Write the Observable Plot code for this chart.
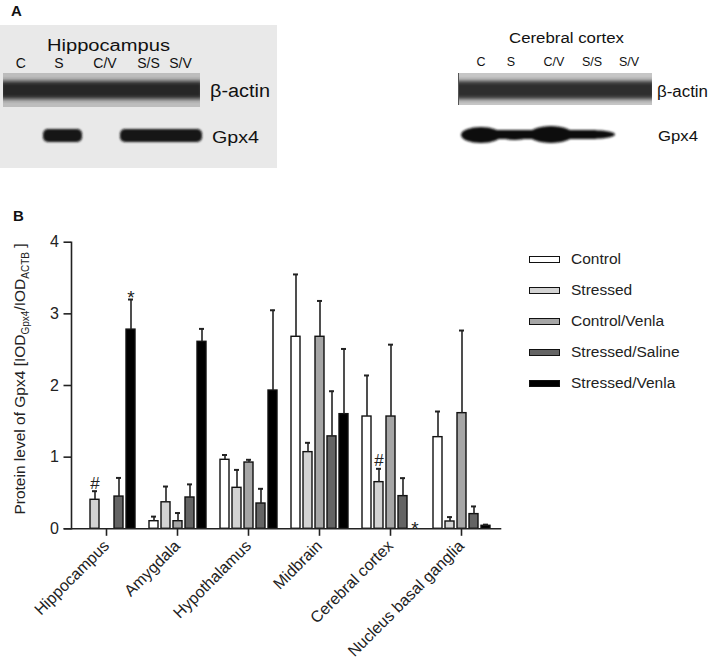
<!DOCTYPE html>
<html>
<head>
<meta charset="utf-8">
<script src="https://cdn.jsdelivr.net/npm/d3@7"></script>
<script src="https://cdn.jsdelivr.net/npm/@observablehq/plot@0.6"></script>
<style>
  html, body { margin: 0; padding: 0; background: #fff; }
  #fig { position: relative; width: 709px; height: 664px; overflow: hidden; font-family: "Liberation Sans", Arial, sans-serif; }
  #panelA { position: absolute; left: 0; top: 0; }
  #chart { position: absolute; left: 0; top: 200px; }
  #legend { position: absolute; left: 529px; top: 249px; }
  .lg-row { position: absolute; left: 0; height: 20px; white-space: nowrap; display: flex; align-items: center; }
  .lg-sw { width: 29px; height: 5px; border: 1.4px solid #111; margin-right: 11px; }
  .lg-tx { font-size: 15.5px; color: #222; }
</style>
</head>
<body>
<div id="fig">
  <div id="panelA"></div>
  <div id="chart"></div>
  <div id="legend"></div>
</div>
<script>
// ---------- data ----------
const groups = ["Hippocampus", "Amygdala", "Hypothalamus", "Midbrain", "Cerebral cortex", "Nucleus basal ganglia"];
const series = ["Control", "Stressed", "Control/Venla", "Stressed/Saline", "Stressed/Venla"];
const seriesColors = ["#ffffff", "#d3d3d3", "#a6a6a6", "#646464", "#000000"];

const controlMean       = [null, 0.106, 0.963, 2.68, 1.567, 1.279];
const controlErr        = [null, 0.064, 0.067, 0.87, 0.573, 0.358];
const stressedMean      = [0.405, 0.37, 0.572, 1.07, 0.651, 0.102];
const stressedErr       = [0.12, 0.22, 0.25, 0.13, 0.186, 0.061];
const controlVenlaMean  = [null, 0.106, 0.925, 2.68, 1.567, 1.614];
const controlVenlaErr   = [null, 0.114, 0.038, 0.50, 1.003, 1.153];
const stressedSalineMean= [0.45, 0.437, 0.353, 1.29, 0.456, 0.205];
const stressedSalineErr = [0.26, 0.183, 0.205, 0.63, 0.251, 0.107];
const stressedVenlaMean = [2.78, 2.61, 1.93, 1.60, null, 0.042];
const stressedVenlaErr  = [0.42, 0.18, 1.12, 0.91, null, 0.016];

const yTicks = [0, 1, 2, 3, 4];

const annotations = [
  {group: "Hippocampus", series: "Stressed", label: "#"},
  {group: "Hippocampus", series: "Stressed/Venla", label: "*"},
  {group: "Cerebral cortex", series: "Stressed", label: "#"},
  {group: "Cerebral cortex", series: "Stressed/Venla", label: "*"}
];

// panel A text
const laneLabels = ["C", "S", "C/V", "S/S", "S/V"];
const blotLeftTitle = "Hippocampus";
const blotRightTitle = "Cerebral cortex";
const bandNames = ["β-actin", "Gpx4"];

// ---------- build table ----------
const means = [controlMean, stressedMean, controlVenlaMean, stressedSalineMean, stressedVenlaMean];
const errs = [controlErr, stressedErr, controlVenlaErr, stressedSalineErr, stressedVenlaErr];
const rows = [];
series.forEach((s, i) => groups.forEach((g, j) => {
  rows.push({group: g, series: s, mean: means[i][j], err: errs[i][j]});
}));
const present = rows.filter(d => d.mean != null);
const findRow = (g, s) => rows.find(d => d.group === g && d.series === s);
const ann = annotations.map(a => {
  const r = findRow(a.group, a.series);
  const hasBar = r && r.mean != null;
  return {...a, y: hasBar ? r.mean + r.err : 0, hasBar};
});

// ---------- chart B ----------
const chart = Plot.plot({
  width: 709,
  height: 464,
  marginTop: 41.7,
  marginBottom: 135.7,
  marginLeft: 70,
  marginRight: 213,
  style: {fontFamily: "'Liberation Sans', Arial, sans-serif", fontSize: "16px", color: "#222", background: "transparent"},
  fx: {domain: groups, padding: 0.02, label: null},
  x: {domain: series, paddingInner: 0.27, paddingOuter: 0.43, axis: null},
  y: {domain: [0, 4], label: null},
  color: {domain: series, range: seriesColors},
  marks: [
    Plot.barY(present, {fx: "group", x: "series", y: "mean", fill: "series", stroke: "#111", strokeWidth: 1.4}),
    Plot.ruleX(present, {fx: "group", x: "series", y1: "mean", y2: d => d.mean + d.err, stroke: "#222", strokeWidth: 1.6}),
    Plot.tickY(present, {fx: "group", x: "series", y: d => d.mean + d.err, stroke: "#222", strokeWidth: 2, insetLeft: 2, insetRight: 2}),
    Plot.text(ann.filter(d => d.label === "#"), {fx: "group", x: "series", y: "y", text: "label", lineAnchor: "bottom", dy: -2.5, fontSize: 17, fill: "#222"}),
    Plot.text(ann.filter(d => d.label === "*" && d.hasBar), {fx: "group", x: "series", y: "y", text: "label", lineAnchor: "bottom", dy: 4, fontSize: 19, fill: "#222"}),
    Plot.text(ann.filter(d => d.label === "*" && !d.hasBar), {fx: "group", x: "series", y: "y", text: "label", lineAnchor: "bottom", dy: 6, fontSize: 19, fill: "#222"}),
    Plot.frame({anchor: "bottom", facet: "super", insetLeft: -7, insetRight: -4, stroke: "#222", strokeWidth: 1.6}),
    Plot.frame({anchor: "left", facet: "super", stroke: "#222", strokeWidth: 1.6}),
    Plot.axisY({ticks: yTicks, tickSize: 7.5, tickPadding: 5, tickFormat: d => String(d), label: null, stroke: "#222", strokeWidth: 1.6, fontSize: 16}),
    Plot.axisFx({anchor: "bottom", tickSize: 7.5, tickRotate: -45, tickPadding: 7, label: null, stroke: "#222", strokeWidth: 1.6, fontSize: 16})
  ]
});
document.getElementById("chart").appendChild(chart);

// y-axis title with subscripts
const csvg = d3.select(chart.tagName.toLowerCase() === "svg" ? chart : chart.querySelector("svg"));
const yl = csvg.append("text")
  .attr("transform", "translate(25,179) rotate(-90)")
  .attr("text-anchor", "middle")
  .attr("font-size", 15.5)
  .attr("fill", "#222")
  .attr("font-family", "'Liberation Sans', Arial, sans-serif");
yl.append("tspan").text("Protein level of Gpx4 [IOD");
yl.append("tspan").attr("dy", 4).attr("font-size", 10).text("Gpx4");
yl.append("tspan").attr("dy", -4).text("/IOD");
yl.append("tspan").attr("dy", 4).attr("font-size", 10).text("ACTB");
yl.append("tspan").attr("dy", -4).text(" ]");

// legend
const lg = document.getElementById("legend");
series.forEach((s, i) => {
  const row = document.createElement("div");
  row.className = "lg-row";
  row.style.top = (i * 31.1) + "px";
  const sw = document.createElement("div");
  sw.className = "lg-sw";
  sw.style.background = seriesColors[i];
  const tx = document.createElement("span");
  tx.className = "lg-tx";
  tx.textContent = s;
  row.appendChild(sw); row.appendChild(tx);
  lg.appendChild(row);
});

// ---------- panel A (blot images) ----------
const A = d3.select("#panelA").append("svg").attr("width", 709).attr("height", 232)
  .attr("font-family", "'Liberation Sans', Arial, sans-serif");
const defs = A.append("defs");
defs.append("filter").attr("id", "blur2").attr("x", "-10%").attr("y", "-50%").attr("width", "120%").attr("height", "200%")
  .append("feGaussianBlur").attr("stdDeviation", 2.2);
defs.append("filter").attr("id", "blur1").attr("x", "-10%").attr("y", "-50%").attr("width", "120%").attr("height", "200%")
  .append("feGaussianBlur").attr("stdDeviation", 1);
defs.append("clipPath").attr("id", "clipL").append("rect").attr("x", 3).attr("y", 73).attr("width", 197).attr("height", 34);
defs.append("clipPath").attr("id", "clipR").append("rect").attr("x", 458).attr("y", 73).attr("width", 194).attr("height", 32);

A.append("text").attr("x", 11).attr("y", 16).attr("font-size", 15).attr("font-weight", "bold").attr("fill", "#111").text("A");

// left blot
A.append("rect").attr("x", 0).attr("y", 25).attr("width", 277).attr("height", 143).attr("fill", "#e9e9e9");
A.append("rect").attr("x", 3).attr("y", 73).attr("width", 197).attr("height", 34).attr("fill", "#bdbdbd");
A.append("g").attr("clip-path", "url(#clipL)")
  .append("rect").attr("x", 0).attr("y", 81).attr("width", 203).attr("height", 18).attr("fill", "#262626").attr("filter", "url(#blur2)");
A.append("rect").attr("x", 43).attr("y", 129).attr("width", 39).attr("height", 13).attr("rx", 5).attr("fill", "#121212").attr("filter", "url(#blur1)");
A.append("rect").attr("x", 120).attr("y", 129).attr("width", 82).attr("height", 13).attr("rx", 5).attr("fill", "#121212").attr("filter", "url(#blur1)");
A.append("text").attr("x", 47).attr("y", 51).attr("font-size", 16).attr("fill", "#111")
  .attr("textLength", 123).attr("lengthAdjust", "spacingAndGlyphs").text(blotLeftTitle);
const laneXL = [20.7, 59, 105, 148.5, 180.5];
laneLabels.forEach((l, i) => A.append("text").attr("x", laneXL[i]).attr("y", 68).attr("text-anchor", "middle")
  .attr("font-size", 14).attr("fill", "#111").text(l));
A.append("text").attr("x", 210).attr("y", 97).attr("font-size", 18).attr("fill", "#111")
  .attr("textLength", 60).attr("lengthAdjust", "spacingAndGlyphs").text(bandNames[0]);
A.append("text").attr("x", 212).attr("y", 143).attr("font-size", 17).attr("fill", "#111")
  .attr("textLength", 47).attr("lengthAdjust", "spacingAndGlyphs").text(bandNames[1]);

// right blot
A.append("text").attr("x", 509).attr("y", 43).attr("font-size", 14).attr("fill", "#111")
  .attr("textLength", 115).attr("lengthAdjust", "spacingAndGlyphs").text(blotRightTitle);
const laneXR = [481, 511, 554, 592, 629];
laneLabels.forEach((l, i) => A.append("text").attr("x", laneXR[i]).attr("y", 66).attr("text-anchor", "middle")
  .attr("font-size", 12.5).attr("fill", "#111").text(l));
A.append("rect").attr("x", 458).attr("y", 73).attr("width", 194).attr("height", 32).attr("fill", "#c6c6c6");
A.append("g").attr("clip-path", "url(#clipR)")
  .append("rect").attr("x", 455).attr("y", 81).attr("width", 200).attr("height", 18).attr("fill", "#2e2e2e").attr("filter", "url(#blur2)");
A.append("line").attr("x1", 458.5).attr("x2", 458.5).attr("y1", 73).attr("y2", 105).attr("stroke", "#555").attr("stroke-width", 1);
const gR = A.append("g").attr("filter", "url(#blur1)").attr("fill", "#101010");
gR.append("rect").attr("x", 466).attr("y", 130).attr("width", 130).attr("height", 9);
gR.append("ellipse").attr("cx", 481).attr("cy", 135).attr("rx", 20).attr("ry", 8);
gR.append("ellipse").attr("cx", 515).attr("cy", 135).attr("rx", 16).attr("ry", 5);
gR.append("ellipse").attr("cx", 551).attr("cy", 134.5).attr("rx", 22).attr("ry", 8.5);
gR.append("ellipse").attr("cx", 594).attr("cy", 134.5).attr("rx", 21).attr("ry", 4.2);
A.append("text").attr("x", 657).attr("y", 97).attr("font-size", 16).attr("fill", "#111")
  .attr("textLength", 51).attr("lengthAdjust", "spacingAndGlyphs").text(bandNames[0]);
A.append("text").attr("x", 658).attr("y", 141).attr("font-size", 15).attr("fill", "#111")
  .attr("textLength", 40).attr("lengthAdjust", "spacingAndGlyphs").text(bandNames[1]);

A.append("text").attr("x", 13).attr("y", 221).attr("font-size", 15).attr("font-weight", "bold").attr("fill", "#111").text("B");
</script>
</body>
</html>
